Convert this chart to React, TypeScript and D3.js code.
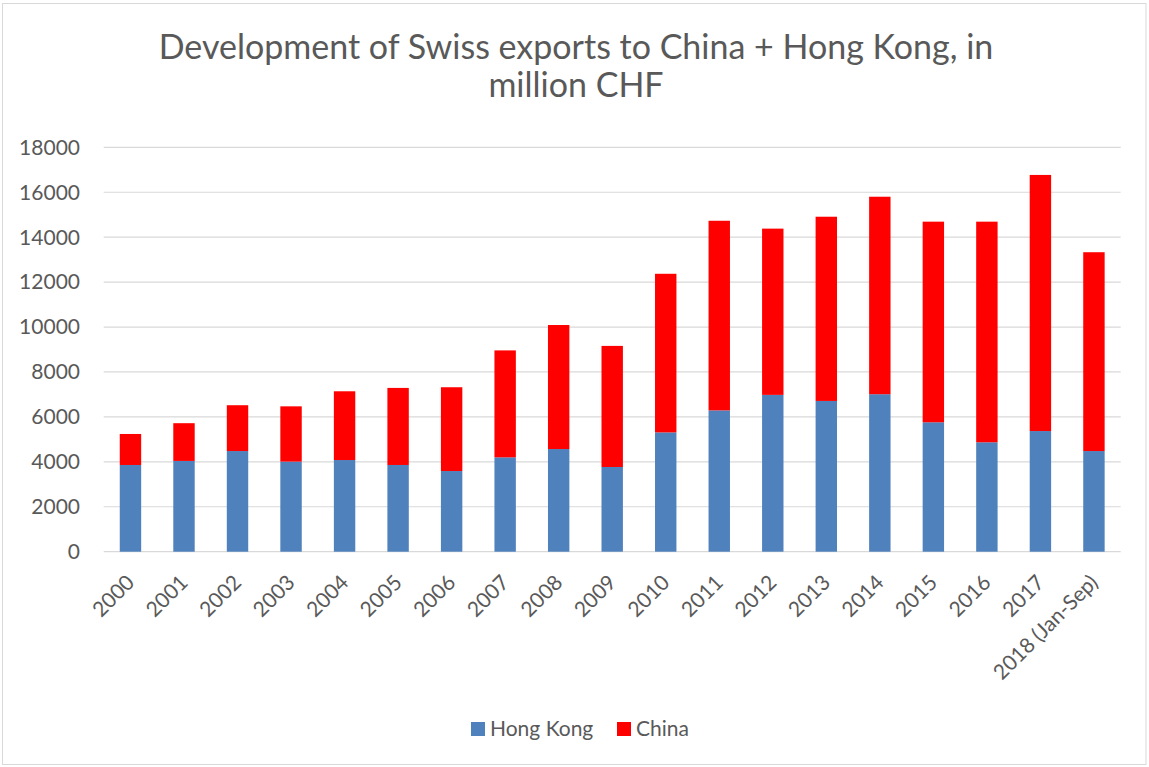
import React from "react";
import * as d3 from "d3";

const years = [
  "2000", "2001", "2002", "2003", "2004", "2005", "2006", "2007", "2008", "2009",
  "2010", "2011", "2012", "2013", "2014", "2015", "2016", "2017", "2018 (Jan-Sep)",
];
const hongKong = [
  3860, 4040, 4480, 4010, 4080, 3860, 3590, 4200, 4570, 3770,
  5310, 6290, 6980, 6710, 7010, 5760, 4870, 5370, 4480,
];
const china = [
  1380, 1680, 2040, 2460, 3060, 3430, 3730, 4760, 5520, 5390,
  7060, 8440, 7400, 8200, 8790, 8930, 9820, 11400, 8850,
];
const yTicks = [0, 2000, 4000, 6000, 8000, 10000, 12000, 14000, 16000, 18000];

const WIDTH = 1149;
const HEIGHT = 767;
const PLOT = { left: 103.7, right: 1120.7, top: 147.3, bottom: 551.7 };
const FONT = "Lato, 'Open Sans', sans-serif";
const TEXT_COLOR = "#595959";
const GRID_COLOR = "#d9d9d9";
const HK_COLOR = "#4f81bd";
const CN_COLOR = "#ff0000";
const LABEL_SIZE = 21;

export default function App() {
  const x = d3
    .scaleBand<string>()
    .domain(years)
    .range([PLOT.left, PLOT.right])
    .paddingInner(0.6)
    .paddingOuter(0.3);
  const y = d3.scaleLinear().domain([0, 18000]).range([PLOT.bottom, PLOT.top]);

  const rows = years.map((year, i) => ({ year, hk: hongKong[i], cn: china[i] }));
  const stacked = d3.stack<{ year: string; hk: number; cn: number }>().keys(["hk", "cn"])(rows);
  const colors = [HK_COLOR, CN_COLOR];

  return (
    <div style={{ position: "absolute", left: 0, top: 0 }}>
      <svg width={WIDTH} height={HEIGHT} style={{ display: "block", background: "#fff" }} fontFamily={FONT}>
        <rect x={2.5} y={3.5} width={1143.5} height={761} fill="#fff" stroke={GRID_COLOR} strokeWidth={1} />

        {/* title */}
        <text x={576} y={59} textAnchor="middle" fontSize={34} fill={TEXT_COLOR}>
          Development of Swiss exports to China + Hong Kong, in
        </text>
        <text x={576} y={97} textAnchor="middle" fontSize={34} fill={TEXT_COLOR}>
          million CHF
        </text>

        {/* gridlines + y labels */}
        {yTicks.map((t) => (
          <g key={t}>
            <line x1={PLOT.left} x2={PLOT.right} y1={y(t)} y2={y(t)} stroke={GRID_COLOR} strokeWidth={1.2} />
            <text x={80} y={y(t)} dy="0.35em" textAnchor="end" fontSize={LABEL_SIZE} fill={TEXT_COLOR}>
              {t}
            </text>
          </g>
        ))}

        {/* bars */}
        {stacked.map((series, si) => (
          <g key={series.key} fill={colors[si]}>
            {series.map((d) => (
              <rect
                key={d.data.year}
                x={x(d.data.year)}
                y={y(d[1])}
                width={x.bandwidth()}
                height={y(d[0]) - y(d[1])}
              />
            ))}
          </g>
        ))}

        {/* x labels */}
        {years.map((yr) => {
          const cx = (x(yr) ?? 0) + x.bandwidth() / 2;
          return (
            <text
              key={yr}
              transform={`translate(${cx},578.6) rotate(-45)`}
              dy="0.35em"
              textAnchor="end"
              fontSize={LABEL_SIZE}
              fill={TEXT_COLOR}
            >
              {yr}
            </text>
          );
        })}

        {/* legend */}
        <rect x={471} y={722} width={14} height={14} fill={HK_COLOR} />
        <text x={490} y={729} dy="0.35em" fontSize={LABEL_SIZE} fill={TEXT_COLOR}>Hong Kong</text>
        <rect x={617} y={722} width={14} height={14} fill={CN_COLOR} />
        <text x={636} y={729} dy="0.35em" fontSize={LABEL_SIZE} fill={TEXT_COLOR}>China</text>
      </svg>
    </div>
  );
}
